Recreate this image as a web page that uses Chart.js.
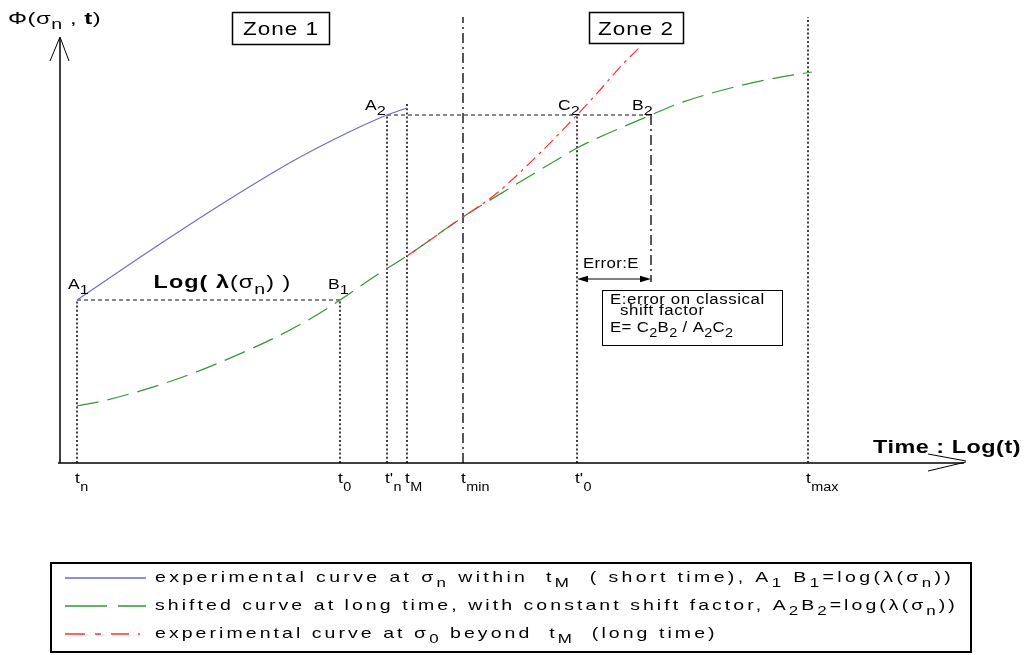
<!DOCTYPE html>
<html><head><meta charset="utf-8">
<script src="https://cdn.jsdelivr.net/npm/chart.js@4.4.0/dist/chart.umd.min.js"></script>
<style>html,body{margin:0;padding:0;background:#fff}#wrap{width:1030px;height:655px;position:relative}</style>
</head><body><div id="wrap"><canvas id="c"></canvas></div>
<script>
// ---- schematic data (abstract units: x = log(t), y = Phi) ----
const blueX = [1.7, 10, 17.3, 23.3, 28.3, 32.7, 34.7];
const blueY = [16.3, 21.9, 26.6, 30.2, 32.8, 34.8, 35.5];
const greenX = [1.7, 4.7, 12, 19.3, 23, 26, 28, 32, 34.7, 40.3, 45, 50, 51.7, 59.1, 62, 66.3, 70.5, 75.2];
const greenY = [5.7, 6.3, 8.5, 11.5, 13.3, 15.0, 16.3, 19.0, 20.7, 24.6, 27.5, 30.5, 31.5, 34.8, 36.0, 37.3, 38.3, 39.1];
const redX = [34.7, 40.3, 43.7, 48, 51.7, 54, 56.2, 58.2];
const redY = [20.7, 24.6, 27.0, 31.0, 34.8, 37.3, 39.8, 41.8];
// tick marks on the time axis: t_n, t_0, t'_n, t_M, t_min, t'_0, t_max
const tickPos = [1.7, 28, 32.7, 34.7, 40.3, 51.7, 74.8];
const tickMain = ['t', 't', "t'", 't', 't', "t'", 't'];
const tickSub = ['n', '0', 'n', 'M', 'min', '0', 'max'];
const tickTop = [16.3, 16.3, 34.8, 36.0, 44.6, 34.8, 44.6];
const tickStyle = ['dot', 'dot', 'dot', 'dot', 'dashdot', 'dot', 'dot'];
// key points
const A1 = [1.7, 16.3], B1 = [28, 16.3], A2 = [32.7, 34.8], C2 = [51.7, 34.8], B2 = [59.1, 34.8];
const errY = 18.4;
const legendRows = [
  [['experimental curve at σ',''],['n','s'],[' within  t',''],['M','s'],['  ( short time), A',''],['1','s'],[' B',''],['1','s'],['=log(λ(σ',''],['n','s'],['))','']],
  [['shifted curve at long time, with constant shift factor, A',''],['2','s'],['B',''],['2','s'],['=log(λ(σ',''],['n','s'],['))','']],
  [['experimental curve at σ',''],['0','s'],[' beyond  t',''],['M','s'],['  (long time)','']]
];
const legendLs = [2.6, 2.35, 2.35];

const FONT = '"Liberation Sans", Arial, Helvetica, sans-serif';
const DOT = [2, 2.2], DASHDOT = [10, 4, 2, 4], DASH = [4, 3];

function pts(xs, ys) { return xs.map((x, i) => ({x, y: ys[i]})); }
function refLine(p, dash, w) {
  return {data: p, borderColor: '#111', borderWidth: w || 1.5, borderDash: dash, pointRadius: 0, tension: 0, fill: false};
}

const datasets = [
  {label: 'red', data: pts(redX, redY), borderColor: '#ff3030', borderWidth: 1.2, borderDash: [12, 5, 3, 5], cubicInterpolationMode: 'monotone', pointRadius: 0, fill: false},
  {label: 'green', data: pts(greenX, greenY), borderColor: '#349634', borderWidth: 1.2, borderDash: [22, 9], cubicInterpolationMode: 'monotone', pointRadius: 0, fill: false},
  {label: 'blue', data: pts(blueX, blueY), borderColor: '#6a6acc', borderWidth: 1.1, cubicInterpolationMode: 'monotone', pointRadius: 0, fill: false}
];
tickPos.forEach((x, i) => datasets.push(refLine([{x, y: 0}, {x, y: tickTop[i]}], tickStyle[i] === 'dot' ? DOT : DASHDOT, tickStyle[i] === 'dot' ? 1.6 : 1.4)));
datasets.push(refLine([{x: B2[0], y: B2[1]}, {x: B2[0], y: errY - 0.3}], DASHDOT, 1.4));
datasets.push(refLine([{x: A1[0], y: A1[1]}, {x: B1[0], y: B1[1]}], DASH, 1));
datasets.push(refLine([{x: A2[0], y: A2[1]}, {x: B2[0], y: B2[1]}], DASH, 1));

function runParts(ctx, parts, o, draw) {
  let cx = 0;
  for (const p of parts) {
    const t = p[0], k = p[1] || '';
    const sub = k.includes('s'), bold = k.includes('b') || !!o.bold;
    const fs = sub ? (o.subSize || Math.round(o.size * 0.78)) : o.size;
    ctx.font = (bold ? 'bold ' : '') + fs + 'px ' + FONT;
    if (draw) ctx.fillText(t, cx, sub ? (o.subDy != null ? o.subDy : o.size * 0.3) : 0);
    cx += ctx.measureText(t).width;
  }
  return cx;
}
function rich(ctx, x, y, parts, o) {
  ctx.save();
  ctx.letterSpacing = (o.ls || 0) + 'px';
  const sx = o.sx || 1.3;
  const w = runParts(ctx, parts, o, false);
  let left = x;
  if (o.align === 'center') left = x - w * sx / 2;
  ctx.translate(left, y); ctx.scale(sx, 1);
  ctx.fillStyle = o.color || '#000'; ctx.textBaseline = 'alphabetic'; ctx.textAlign = 'left';
  runParts(ctx, parts, o, true);
  ctx.restore();
  return w * sx;
}
function line(ctx, x1, y1, x2, y2, w, dash) {
  ctx.save(); ctx.beginPath(); ctx.lineWidth = w; ctx.strokeStyle = '#000'; ctx.setLineDash(dash || []);
  ctx.moveTo(x1, y1); ctx.lineTo(x2, y2); ctx.stroke(); ctx.restore();
}
function tri(ctx, tipX, tipY, dir) {
  ctx.beginPath(); ctx.moveTo(tipX, tipY); ctx.lineTo(tipX - dir * 11, tipY - 3.2); ctx.lineTo(tipX - dir * 11, tipY + 3.2); ctx.closePath(); ctx.fill();
}

const decor = {
  id: 'decor',
  afterDatasetsDraw(chart) {
    const ctx = chart.ctx, xs = chart.scales.x, ys = chart.scales.y;
    const X = v => xs.getPixelForValue(v), Y = v => ys.getPixelForValue(v);
    const x0 = X(0), y0 = Y(0);
    // axes
    line(ctx, x0, y0, x0, 38, 1.5);
    line(ctx, x0 - 10, 61, x0, 37, 1); line(ctx, x0 + 9, 61, x0, 37, 1);
    line(ctx, x0 - 2, y0, 964, y0, 1.5);
    line(ctx, 928, y0 - 9, 966, y0 - 2, 1); line(ctx, 928, y0 + 8, 966, y0 - 1, 1);
    // axis titles
    rich(ctx, 8, 24, [['Φ(σ',''],['n','s'],[' , ',''],['t','b'],[')','']], {size: 17, sx: 1.4, ls: 0.4, subSize: 14, subDy: 5});
    rich(ctx, 873, 453, [['Time : Log(t)','']], {size: 18, bold: true, sx: 1.3, ls: 0.4});
    // tick labels
    tickPos.forEach((v, i) => {
      const w = rich(ctx, X(v) - 2, y0 + 20, [[tickMain[i],'']], {size: 15, sx: 1.15});
      rich(ctx, X(v) - 2 + w + 0.5, y0 + 28, [[tickSub[i],'']], {size: 12, sx: 1.2});
    });
    // point labels
    const lab = (p, dx, dy, a, s) => rich(ctx, X(p[0]) + dx, Y(p[1]) + dy, [[a,''],[s,'s']], {size: 14, sx: 1.25, subSize: 13, subDy: 5});
    lab(A1, -9, -11, 'A', '1'); lab(B1, -12, -11, 'B', '1');
    lab(A2, -22, -5, 'A', '2'); lab(C2, -19, -5, 'C', '2'); lab(B2, -19, -5, 'B', '2');
    rich(ctx, (X(A1[0]) + X(B1[0])) / 2 + 14, Y(A1[1]) - 12,
      [['Log( ','b'],['λ','b'],['(σ',''],['n','s'],[') )','']], {size: 18, sx: 1.3, ls: 0.8, align: 'center', subSize: 15, subDy: 6});
    // error arrow
    const ex1 = X(C2[0]), ex2 = X(B2[0]), ey = Y(errY);
    ctx.fillStyle = '#000';
    line(ctx, ex1 + 4, ey, ex2 - 4, ey, 1.2);
    tri(ctx, ex1, ey, -1); tri(ctx, ex2, ey, 1);
    rich(ctx, ex1 + 6, ey - 11, [['Error:E','']], {size: 14, sx: 1.2, ls: 0.3});
    // error box
    const bx = ex1 + 25, by = ey + 11;
    ctx.save(); ctx.lineWidth = 1; ctx.strokeStyle = '#000'; ctx.strokeRect(bx + 0.5, by + 0.5, 180, 55); ctx.restore();
    rich(ctx, bx + 8, by + 14, [['E:error on classical','']], {size: 14, sx: 1.2, ls: 0.5});
    rich(ctx, bx + 18, by + 25, [['shift factor','']], {size: 14, sx: 1.2, ls: 0.5});
    rich(ctx, bx + 8, by + 42, [['E= C',''],['2','s'],['B',''],['2','s'],[' / A',''],['2','s'],['C',''],['2','s']], {size: 14, sx: 1.2, ls: 0.3, subSize: 12, subDy: 5});
    // zone boxes
    ctx.save(); ctx.lineWidth = 1.5; ctx.strokeStyle = '#000';
    ctx.strokeRect(232.5, 12.5, 97, 32); ctx.strokeRect(589.5, 12.5, 94, 31); ctx.restore();
    rich(ctx, 281, 35, [['Zone 1','']], {size: 18, sx: 1.25, ls: 0.8, align: 'center'});
    rich(ctx, 636, 35, [['Zone 2','']], {size: 18, sx: 1.25, ls: 0.8, align: 'center'});
    // legend
    ctx.save(); ctx.lineWidth = 2; ctx.strokeStyle = '#000'; ctx.strokeRect(51, 563, 920, 89); ctx.restore();
    const rowsY = [578, 606, 634];
    const samp = [['#6a6acc', []], ['#349634', [42, 11]], ['#ff3030', [20, 10, 6, 10, 18, 9, 2]]];
    rowsY.forEach((yy, i) => {
      ctx.save(); ctx.beginPath(); ctx.strokeStyle = samp[i][0]; ctx.lineWidth = 1.3; ctx.setLineDash(samp[i][1]);
      ctx.moveTo(65, yy); ctx.lineTo(146, yy); ctx.stroke(); ctx.restore();
      rich(ctx, 155, yy + 4, legendRows[i], {size: 15, sx: 1.3, ls: legendLs[i], subSize: 13, subDy: 5});
    });
  }
};

new Chart(document.getElementById('c'), {
  type: 'line',
  data: {datasets},
  options: {
    responsive: true, maintainAspectRatio: false, animation: false,
    layout: {padding: 0},
    plugins: {legend: {display: false}, tooltip: {enabled: false}},
    events: [],
    scales: {
      x: {type: 'linear', min: -6, max: 97, display: false},
      y: {type: 'linear', min: -19.2, max: 46.3, display: false}
    }
  },
  plugins: [decor]
});
</script>
</body></html>
